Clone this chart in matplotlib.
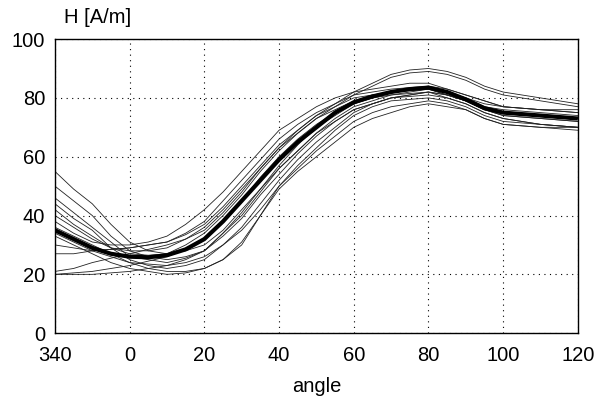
import matplotlib
matplotlib.use("Agg")
import matplotlib.pyplot as plt

# angle axis runs 340 -> 360/0 -> 120, stored as -20..120
angles = [-20, -15, -10, -5, 0, 5, 10, 15, 20, 25, 30, 35, 40, 45, 50,
          55, 60, 65, 70, 75, 80, 85, 90, 95, 100, 105, 110, 115, 120]
tick_pos = [-20, 0, 20, 40, 60, 80, 100, 120]
tick_labels = ["340", "0", "20", "40", "60", "80", "100", "120"]

# individual measurements, H [A/m]
runs = [
    [38, 34, 31, 30, 30, 31, 33, 37, 42, 48, 55, 62, 69, 73, 77, 80, 82, 83, 84, 85, 85, 83, 81, 79, 77, 76.5, 76, 75.5, 75],
    [40, 36, 32, 29, 28, 28, 29, 32, 36, 42, 49, 56, 63, 69, 74, 78, 82, 85, 88, 89.5, 90, 89, 87, 84, 82, 81, 80, 79, 78],
    [42, 37, 33, 29, 27, 26.5, 27, 30, 34, 40, 47, 55, 62, 68, 73, 77, 81, 84, 87, 88.5, 89, 88, 86, 83, 81, 80, 79, 78, 77],
    [55, 49, 44, 37, 31, 28, 27, 28, 30, 35, 42, 49, 56, 62, 68, 73, 77, 79, 81, 82, 83, 82, 80, 77, 75, 74.5, 74, 73.5, 73],
    [50, 45, 40, 33, 28, 26, 25, 26, 28, 33, 39, 47, 54, 61, 67, 72, 76, 78, 80, 81, 82, 81, 79, 76, 74, 73.5, 73, 72.5, 72],
    [44, 39, 35, 29, 25, 23, 22, 23, 25, 30, 36, 44, 52, 59, 65, 70, 75, 78, 80, 81, 82, 80, 78, 75, 73, 72, 71, 70.5, 70],
    [36, 33, 30, 27, 24, 22, 21, 21, 22, 25, 31, 40, 49, 55, 60, 65, 70, 73, 75, 77, 78, 77, 76, 73, 71, 70.5, 70, 69.5, 69],
    [33, 30, 27, 24, 22, 21, 20, 20.5, 22, 25, 30, 40, 50, 56, 62, 67, 72, 75, 77, 78, 79, 78, 76, 73, 71, 70.5, 70, 70, 70],
    [27, 27, 28, 28.5, 29, 30, 31, 33.5, 37, 43, 50, 57, 64, 69, 74, 77, 80, 81, 82, 82.5, 83, 81, 79, 77, 76, 75.5, 75, 74.5, 74],
    [21, 22, 24, 25.5, 27, 28.5, 30, 32, 35, 41, 48, 56, 63, 68, 73, 76, 79, 81, 82, 82.5, 83, 81, 79, 76, 75, 74.5, 74, 73.5, 73],
    [20, 20.5, 21, 22, 23, 24.5, 26, 28.5, 32, 38, 45, 53, 60, 66, 71, 75, 78, 80, 81, 81.5, 82, 81, 79, 76, 74, 73.5, 73, 72.5, 72],
    [20, 20, 20, 20.5, 21, 22, 23, 25, 28, 34, 40, 48, 56, 62, 68, 72, 76, 78, 80, 80.5, 81, 80, 78, 75, 73, 72, 71, 70.5, 70],
    [30, 29, 28, 28.5, 29, 30, 31, 34, 38, 45, 52, 59, 66, 71, 75, 78, 81, 82, 83, 83.5, 84, 82, 80, 78, 77, 76.5, 76, 75.5, 75],
    [34, 31, 28, 26, 24, 23.5, 23, 24, 26, 30, 35, 42, 50, 57, 63, 69, 74, 77, 79, 79.5, 80, 79, 77, 74, 72, 71.5, 71, 70.5, 70],
    [46, 41, 36, 31, 26, 25, 24, 25.5, 28, 34, 41, 49, 57, 64, 70, 74, 78, 80, 82, 83, 84, 83, 81, 79, 77, 76.5, 76, 76, 76],
]

# mean curve
mean_h = [35, 32, 29, 27, 26, 25.8, 26.5, 28.5, 32, 38, 45, 52, 59, 65, 70,
          75, 78.5, 80.5, 82, 83, 83.5, 82, 79.5, 76.5, 75, 74.5, 74, 73.5, 73]

plt.rcParams["font.family"] = ["Liberation Sans", "DejaVu Sans"]

fig = plt.figure(figsize=(5.97, 3.99), dpi=100)
ax = fig.add_axes([0.092, 0.165, 0.876, 0.737])

for r in runs:
    ax.plot(angles, r, color="#222222", lw=0.6)
ax.plot(angles, mean_h, color="black", lw=3.0, solid_capstyle="butt")

ax.set_xlim(-20, 120)
ax.set_ylim(0, 100)
ax.set_xticks(tick_pos)
ax.set_xticklabels(tick_labels)
ax.set_yticks([0, 20, 40, 60, 80, 100])
ax.tick_params(length=0, labelsize=14.5)
ax.tick_params(axis="x", pad=9)
ax.tick_params(axis="y", pad=7)
ax.grid(True, color="black", lw=0.8, linestyle=(0, (1, 4)))
for s in ax.spines.values():
    s.set_linewidth(1.0)

ax.set_xlabel("angle", fontsize=14.5, labelpad=9)
fig.text(0.108, 0.957, "H [A/m]", fontsize=14.5, va="center", ha="left")

fig.savefig("out.png", dpi=100)
